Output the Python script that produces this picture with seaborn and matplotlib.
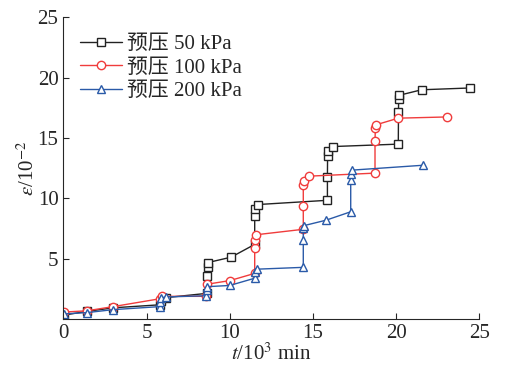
import matplotlib
matplotlib.use("Agg")
import matplotlib.pyplot as plt
import seaborn as sns
import pandas as pd

# ---- data (t in 10^3 min, strain in 10^-2) ----
t_50 = [0.05, 1.4, 3.0, 5.8, 5.85, 6.2, 8.65, 8.65, 8.68, 8.7, 10.08, 11.5, 11.5, 11.52, 11.7,
        15.87, 15.87, 15.88, 15.9, 16.2, 20.13, 20.14, 20.15, 20.2, 21.53, 24.46]
e_50 = [0.35, 0.65, 0.95, 1.2, 1.5, 1.8, 2.15, 3.6, 4.3, 4.7, 5.14, 6.2, 8.55, 9.15, 9.5,
        9.85, 11.8, 13.55, 13.9, 14.3, 14.5, 17.15, 18.25, 18.55, 19.0, 19.15]

t_100 = [0.05, 1.4, 3.0, 5.8, 5.95, 8.6, 8.62, 10.0, 11.5, 11.5, 11.52, 11.6,
         14.42, 14.42, 14.42, 14.45, 14.78, 18.73, 18.73, 18.75, 18.79, 20.13, 23.04]
e_100 = [0.6, 0.7, 1.05, 1.7, 1.9, 1.9, 2.9, 3.2, 3.8, 5.9, 6.6, 7.0,
         7.45, 9.35, 11.1, 11.45, 11.85, 12.1, 14.75, 15.8, 16.1, 16.65, 16.75]

t_200 = [0.05, 0.05, 1.4, 3.0, 5.8, 5.8, 5.85, 6.17, 8.6, 8.62, 8.65, 10.0, 11.5, 11.5, 11.66,
         14.42, 14.42, 14.42, 14.45, 15.78, 17.27, 17.27, 17.3, 17.37, 21.6]
e_200 = [0.15, 0.45, 0.55, 0.8, 1.05, 1.45, 1.75, 1.85, 1.95, 2.45, 2.7, 2.8, 3.4, 3.9, 4.15,
         4.3, 6.55, 7.55, 7.75, 8.2, 8.9, 11.55, 12.05, 12.35, 12.75]

labels = ["预压 50 kPa", "预压 100 kPa", "预压 200 kPa"]
colors = ["#222222", "#f03c3c", "#2a5aa8"]
markers = ["s", "o", "^"]

sns.set_style("ticks")
plt.rcParams["font.family"] = ["Liberation Serif", "Noto Sans CJK SC", "DejaVu Sans"]
plt.rcParams["mathtext.fontset"] = "stix"

fig = plt.figure(figsize=(5.05, 3.72), dpi=100)
ax = fig.add_axes([0.1254, 0.1417, 0.8238, 0.8118])

for t, e, lab, c, m in zip([t_50, t_100, t_200], [e_50, e_100, e_200], labels, colors, markers):
    df = pd.DataFrame({"t": t, "e": e})
    sns.lineplot(data=df, x="t", y="e", sort=False, estimator=None, ax=ax,
                 color=c, marker=m, markersize=6 if m != "s" else 5.5,
                 markerfacecolor="white", markeredgecolor=c, markeredgewidth=1.0,
                 linewidth=1.0, label=lab)

for line in ax.lines:
    line.set_markerfacecolor("white")

ax.set_xlim(0, 25)
ax.set_ylim(0, 25)
ax.set_xticks([0, 5, 10, 15, 20, 25])
ax.set_yticks([5, 10, 15, 20, 25])
ax.tick_params(direction="in", labelsize=15, length=4, width=0.8)
for s in ["top", "right"]:
    ax.spines[s].set_visible(False)
for s in ["left", "bottom"]:
    ax.spines[s].set_linewidth(0.8)

ax.set_xlabel(r"$t$/10$^3$ min", fontsize=15, labelpad=0)
ax.set_ylabel(r"$\varepsilon$/10$^{-2}$", fontsize=15, labelpad=-1)

leg = ax.legend(loc="upper left", bbox_to_anchor=(0.01, 0.985), frameon=False,
                fontsize=15, handlelength=2.0, handletextpad=0.25, labelspacing=0.2,
                borderaxespad=0.2)

fig.savefig("out.png", dpi=100)
